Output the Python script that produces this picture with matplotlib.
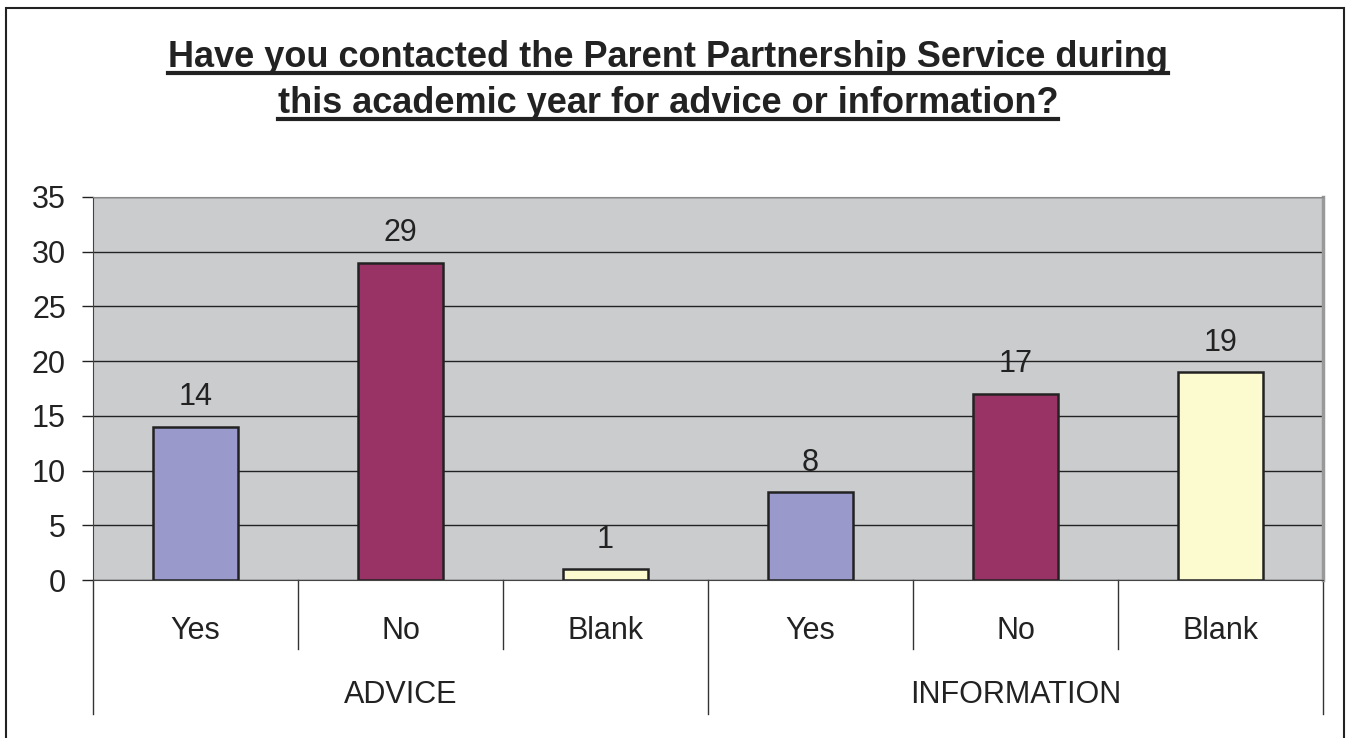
import matplotlib
matplotlib.use("Agg")
import matplotlib.pyplot as plt
from matplotlib.lines import Line2D
from matplotlib.patches import Rectangle

plt.rcParams['font.family'] = ['Liberation Sans', 'DejaVu Sans']

title_lines = ["Have you contacted the Parent Partnership Service during",
               "this academic year for advice or information?"]
groups = ["ADVICE", "INFORMATION"]
answers = ["Yes", "No", "Blank"]
values = [14, 29, 1, 8, 17, 19]
bar_colors = ["#9999CC", "#993366", "#FCFACF"]
yticks = [0, 5, 10, 15, 20, 25, 30, 35]

W, H = 1348, 738
fig = plt.figure(figsize=(W / 100, H / 100), dpi=100)
fig.patch.set_facecolor("white")

# figure frame
fig.add_artist(Rectangle((6 / W, -0.01), (1344 - 6) / W, (H - 8) / H + 0.01,
                         transform=fig.transFigure, fill=False,
                         edgecolor="#222222", linewidth=1.5))

left, right, top, bottom = 93, 1323, 197, 580
ax = fig.add_axes([left / W, 1 - bottom / H, (right - left) / W, (bottom - top) / H])
ax.set_facecolor("#CBCCCE")

n_per = len(answers)
xs = list(range(len(values)))
cols = [bar_colors[i % n_per] for i in xs]
ax.bar(xs, values, width=0.41, color=cols, edgecolor="#222222",
       linewidth=1.8, zorder=3)
for x, v in zip(xs, values):
    ax.annotate(str(v), (x, v), xytext=(0, 15.5), textcoords="offset points",
                ha="center", va="baseline", fontsize=22, color="#222222")

ax.set_xlim(-0.5, len(values) - 0.5)
ax.set_ylim(0, 35)
ax.set_yticks(yticks)
ax.set_yticklabels([str(t) for t in yticks], fontsize=22, color="#222222")
ax.tick_params(axis="y", length=8, width=1, color="#222222", pad=11.5)
ax.yaxis.grid(True, color="#222222", linewidth=1)
ax.set_axisbelow(True)
ax.set_xticks([])
ax.spines["left"].set_color("#444444")
ax.spines["bottom"].set_color("#444444")
ax.spines["top"].set_color("#888888")
ax.spines["right"].set_color("#999999")
ax.spines["right"].set_linewidth(2.5)

# multi-level category axis
trans = ax.get_xaxis_transform()
ph = bottom - top
def yax(py):
    return (bottom - py) / ph

for i in range(len(values) + 1):
    xb = i - 0.5
    yend = 714 if i % n_per == 0 else 649
    ax.add_line(Line2D([xb, xb], [0, yax(yend)], transform=trans, color="#333333",
                       linewidth=1, clip_on=False))
for i, x in enumerate(xs):
    ax.text(x, yax(639), answers[i % n_per], transform=trans, ha="center",
            va="baseline", fontsize=22, color="#222222")
for g, name in enumerate(groups):
    xc = g * n_per + (n_per - 1) / 2
    ax.text(xc, yax(703), name, transform=trans, ha="center", va="baseline",
            fontsize=22, color="#222222")

# underlined bold title
fig.canvas.draw()
renderer = fig.canvas.get_renderer()
for line, py in zip(title_lines, [67, 113]):
    t = fig.text(668 / W, 1 - py / H, line, ha="center", va="baseline",
                 fontsize=26, fontweight="bold", color="#222222")
    bb = t.get_window_extent(renderer)
    uy = 1 - (py + 6) / H
    fig.add_artist(Line2D([bb.x0 / W, bb.x1 / W], [uy, uy],
                          transform=fig.transFigure, color="#222222", linewidth=3))

fig.savefig("out.png", dpi=100)
